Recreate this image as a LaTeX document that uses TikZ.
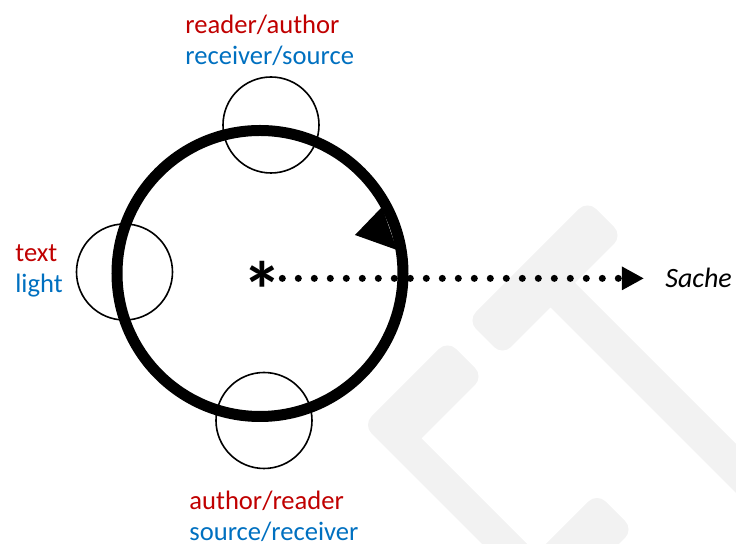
\documentclass[tikz,border=0pt]{standalone}
\usepackage{fontspec}
\setmainfont{Carlito}
\usetikzlibrary{arrows.meta}
\definecolor{lblred}{RGB}{192,0,0}
\definecolor{lblblue}{RGB}{0,112,192}
\definecolor{wmgrey}{RGB}{242,242,242}
\tikzset{
	role/.style={circle, draw, line width=0.8pt, minimum size=48pt, inner sep=0pt},
	lbl/.style={anchor=base west, align=left, inner sep=0pt, font=\fontsize{13.3}{15.7}\selectfont},
	dotline/.style={line width=3.5pt, line cap=round, dash pattern=on 0pt off 8pt, -{Triangle[length=11pt,width=11pt]}},
}
\begin{document}
\begin{tikzpicture}[x=0.5pt, y=-0.5pt]
	\useasboundingbox (0,0) rectangle (736,544);

	%watermark in the background
	\begin{scope}
		\clip (0,0) rectangle (736,544);
		\fill[wmgrey] (575,283) -- (846,554) -- (821.5,578.5) -- (550.5,307.5) [rounded corners=6pt] -- (502.5,355.5) -- (467.5,320.5) -- (587.5,200.5) -- (622.5,235.5) [sharp corners] -- cycle;
		\fill[wmgrey] (421.5,438.5) -- (691.5,708.5) -- (669,731) [rounded corners=6pt] -- (363,425) -- (447.5,340.5) -- (483.5,376.5) [sharp corners] -- cycle;
		\fill[wmgrey] (381.5,781.5) -- (345,745) [rounded corners=6pt] -- (597,493) -- (633.5,529.5) [sharp corners] -- cycle;
	\end{scope}

	%the big circle with its arrowhead
	\draw[line width=5.5pt] (260,273.5) circle (143);
	\fill (355,235) -- (382,207) -- (397,250) -- cycle;

	%the three small circles
	\node[role] (reader) at (271,125) {};
	\node[role] (text) at (124.5,272) {};
	\node[role] (author) at (264,420.5) {};

	%labels (anchored at the baseline of their last line)
	\node[lbl] (readerlbl) at (185,65) {\textcolor{lblred}{reader/author}\\\textcolor{lblblue}{receiver/source}};
	\node[lbl] (textlbl) at (15,293) {\textcolor{lblred}{text}\\\textcolor{lblblue}{light}};
	\node[lbl] (authorlbl) at (189,541) {\textcolor{lblred}{author/reader}\\\textcolor{lblblue}{source/receiver}};

	%centre and the thing
	\node[inner sep=0pt, font=\fontsize{40}{40}\bfseries\selectfont] (star) at (262,290) {*};
	\node[anchor=base west, inner sep=0pt, font=\fontsize{14}{16}\itshape\selectfont] (sache) at (665,288) {Sache};
	\draw[dotline, shorten >=10.5pt] (star.east |- sache.west) -- (sache.west);
\end{tikzpicture}
\end{document}
